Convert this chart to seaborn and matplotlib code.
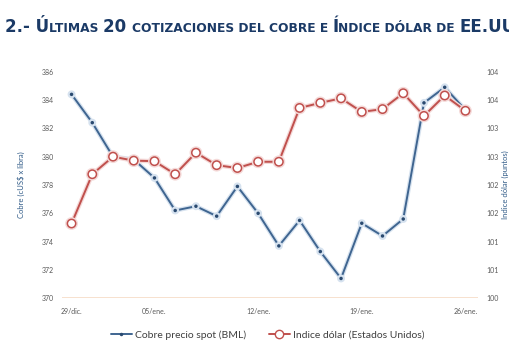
import numpy as np
import pandas as pd
import seaborn as sb
import matplotlib.pyplot as plt
import matplotlib.patheffects as pe
from matplotlib.lines import Line2D

# fechas (dias habiles) 29/dic - 26/ene
fechas = ['29/dic.', '30/dic.', '31/dic.', '02/ene.', '05/ene.', '06/ene.', '07/ene.',
          '08/ene.', '09/ene.', '12/ene.', '13/ene.', '14/ene.', '15/ene.', '16/ene.',
          '19/ene.', '20/ene.', '21/ene.', '22/ene.', '23/ene.', '26/ene.']
cobre = [384.4, 382.4, 380.0, 379.8, 378.5, 376.2, 376.5, 375.8, 377.9, 376.0,
         373.7, 375.5, 373.3, 371.4, 375.3, 374.4, 375.6, 383.8, 384.9, 383.3]
dolar = [101.32, 102.19, 102.50, 102.43, 102.42, 102.19, 102.57, 102.35, 102.30, 102.41,
         102.41, 103.36, 103.45, 103.53, 103.29, 103.34, 103.62, 103.22, 103.58, 103.31]
tick_fechas = ['29/dic.', '05/ene.', '12/ene.', '19/ene.', '26/ene.']
izq_ticks = [370, 372, 374, 376, 378, 380, 382, 384, 386]
der_ticks = [100, 100.5, 101, 101.5, 102, 102.5, 103, 103.5, 104]
der_labels = ['100', '101', '101', '102', '102', '103', '103', '104', '104']

df = pd.DataFrame({'fecha': fechas, 'cobre': cobre, 'dolar': dolar})
df['i'] = range(len(df))

sb.set_style('white')
plt.rcParams['font.family'] = ['Lato', 'DejaVu Sans']

azul = '#3f6590'
rojo = '#c0504d'
gris = '#595959'

fig = plt.figure(figsize=(5.1, 3.52), dpi=100)
ax = fig.add_axes([0.122, 0.1526, 0.815, 0.6437])
ax2 = ax.twinx()

sb.lineplot(data=df, x='i', y='cobre', ax=ax, color=azul, linewidth=1.4,
            marker='o', markersize=2.5, markeredgewidth=0, markerfacecolor='#2a4a70',
            path_effects=[pe.Stroke(linewidth=3.2, foreground='#d6e2ef'), pe.Normal()])
sb.lineplot(data=df, x='i', y='dolar', ax=ax2, color=rojo, linewidth=1.4,
            marker='o', markersize=6, markerfacecolor='white', markeredgecolor=rojo,
            markeredgewidth=1.1,
            path_effects=[pe.Stroke(linewidth=3.2, foreground='#f4d9d8'), pe.Normal()])

ax.set_xlim(-0.45, 19.6)
ax.set_ylim(370, 386)
ax2.set_ylim(100, 104)
ax.set_yticks(izq_ticks)
ax.set_yticklabels([str(t) for t in izq_ticks])
ax2.set_yticks(der_ticks)
ax2.set_yticklabels(der_labels)
ax.set_xticks([fechas.index(f) for f in tick_fechas])
ax.set_xticklabels(tick_fechas)

for a in (ax, ax2):
    for s in a.spines.values():
        s.set_visible(False)
    a.tick_params(length=0, labelsize=5, labelcolor=gris, pad=6)
    a.set_xlabel('')
ax.tick_params(axis='x', pad=7)
ax.axhline(370, color='#f6dcc6', linewidth=1.2, zorder=0)

ax.set_ylabel('Cobre (cUS$ x libra)', fontsize=5.5, color='#2f5a87', labelpad=12)
ax2.set_ylabel('Indice dólar (puntos)', fontsize=5.5, color='#2f5a87', labelpad=2, rotation=90)

handles = [Line2D([], [], color=azul, linewidth=1.4, marker='o', markersize=2.5,
                  markerfacecolor='#2a4a70', markeredgewidth=0),
           Line2D([], [], color=rojo, linewidth=1.4, marker='o', markersize=6,
                  markerfacecolor='white', markeredgecolor=rojo)]
fig.legend(handles, ['Cobre precio spot (BML)', 'Indice dólar (Estados Unidos)'],
           loc='center', bbox_to_anchor=(0.525, 0.048), ncol=2, frameon=False,
           fontsize=7.5, labelcolor='#404040', handlelength=2.0, columnspacing=2.2,
           handletextpad=0.3)

# titulo en versalitas
navy = '#1b3a66'
trozos = [('2.- Ú', 12), ('LTIMAS ', 8.8), ('20 ', 12), ('COTIZACIONES DEL COBRE E ', 8.8),
          ('Í', 12), ('NDICE DÓLAR DE ', 8.8), ('EE.UU.', 12)]
r = fig.canvas.get_renderer()
x = 5
for txt, fs in trozos:
    t = fig.text(x / 510, 1 - 32 / 352, txt, fontsize=fs, fontweight='bold', color=navy,
                 family='DejaVu Sans', va='baseline', ha='left')
    x = t.get_window_extent(r).x1

fig.savefig('out.png', dpi=100)
